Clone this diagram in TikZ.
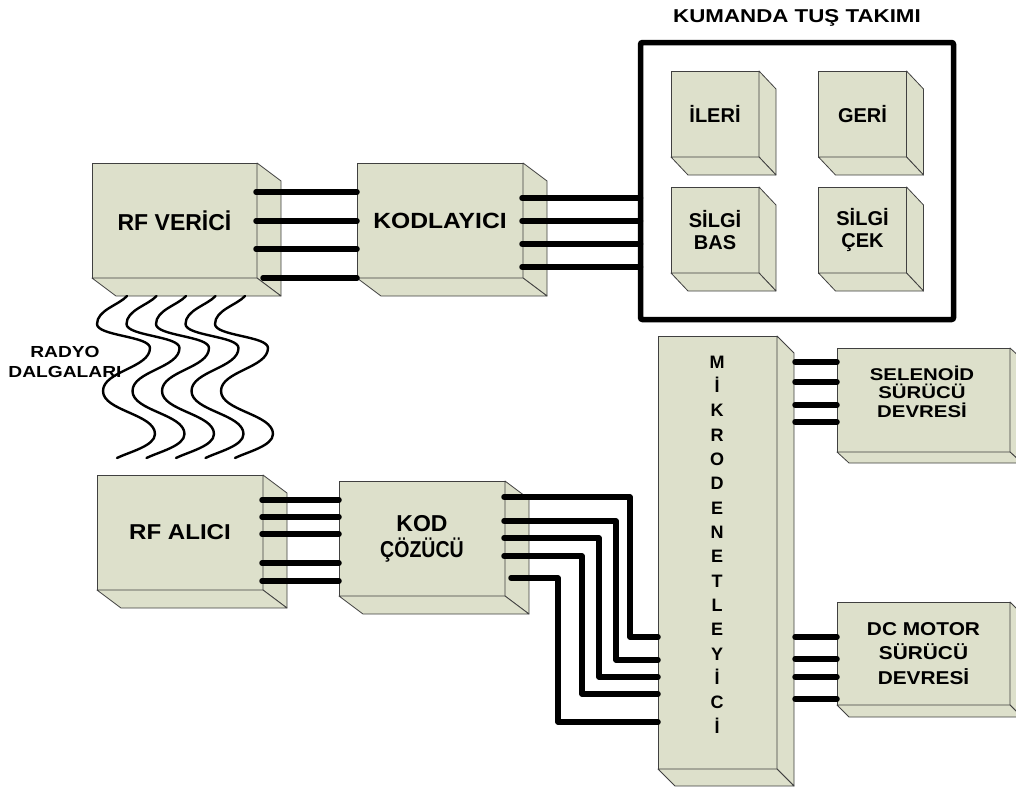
\documentclass[tikz,border=0pt]{standalone}
\usepackage{fontspec}
\setmainfont{Liberation Sans}
\newfontfamily\wa{Liberation Sans}[FakeStretch=1.12]
\newfontfamily\wb{Liberation Sans}[FakeStretch=1.2]
\usetikzlibrary{calc}
\definecolor{facefill}{HTML}{DDE0CB}
\definecolor{edgecol}{HTML}{404040}
\tikzset{
 box/.style={draw=edgecol, fill=facefill, line width=0.8pt, inner sep=0pt, outer sep=0pt, align=center},
 face/.style={draw=edgecol, fill=facefill, line width=0.8pt, line join=round},
 wire/.style={line width=5.5pt, line cap=round, line join=round},
 wave/.style={line width=2.4pt, line cap=round},
 lbl/.style={inner sep=0pt, align=center},
}
\newcommand\cubesides[3]{%
 \draw[face] (#1.north east) -- ++(#2,#3) -- ($(#1.south east)+(#2,#3)$) -- (#1.south east) -- cycle;
 \draw[face] (#1.south west) -- (#1.south east) -- ($(#1.south east)+(#2,#3)$) -- ($(#1.south west)+(#2,#3)$) -- cycle;}
\newcommand\hw[4]{\path (#1) ++(#2) coordinate (#4); \draw[wire] (#4) -- (#4 -| #3);}
\begin{document}
\begin{tikzpicture}[x=1pt,y=-1pt]
\useasboundingbox (0,0) rectangle (1016,787);
\clip (0,0) rectangle (1016,787);

% --- boxes
\node[box, minimum width=165pt, minimum height=115pt, font=\bfseries\fontsize{23}{27}\selectfont] (rfv) at (174.5,220.5) {RF VERİCİ};
\cubesides{rfv}{24}{18}
\node[box, minimum width=166pt, minimum height=115pt, font=\wa\bfseries\fontsize{22}{26}\selectfont] (kod) at (440,220.5) {KODLAYICI};
\cubesides{kod}{24}{18}
\node[box, minimum width=166pt, minimum height=115pt, font=\wa\bfseries\fontsize{21.5}{26}\selectfont] (rfa) at (180,532.5) {RF ALICI};
\cubesides{rfa}{24}{18}
\node[box, minimum width=166pt, minimum height=115pt, font=\bfseries\fontsize{23}{26}\selectfont] (kodc) at (422,538.5) {KOD\\\scalebox{0.85}[1]{ÇÖZÜCÜ}};
\cubesides{kodc}{24}{18}
\node[box, minimum width=119pt, minimum height=433pt] (micro) at (717.5,552.5) {};
\cubesides{micro}{17}{17}
\node[lbl, font=\bfseries\fontsize{18}{24.33}\selectfont] (microtxt) at (717,544.5)
 {M\\İ\\K\\R\\O\\D\\E\\N\\E\\T\\L\\E\\Y\\İ\\C\\İ};
\node[box, minimum width=173pt, minimum height=104pt] (sel) at (923.5,400) {};
\cubesides{sel}{12}{11}
\node[lbl, font=\wb\bfseries\fontsize{17}{18.5}\selectfont] (seltxt) at (922,391.5) {SELENOİD\\SÜRÜCÜ\\DEVRESİ};
\node[box, minimum width=173pt, minimum height=103pt, font=\wa\bfseries\fontsize{18.6}{24.5}\selectfont] (dc) at (923.5,653.5) {DC MOTOR\\SÜRÜCÜ\\DEVRESİ};
\cubesides{dc}{12}{12}

% --- keypad
\node[draw, line width=5.5pt, rounded corners=2pt, minimum width=313pt, minimum height=277pt, inner sep=0pt, outer sep=0pt] (pad) at (797,181) {};
\node[lbl, font=\wb\bfseries\fontsize{18.6}{22}\selectfont] (padtitle) at (797,18) {KUMANDA TUŞ TAKIMI};
\tikzset{key/.style={box, minimum width=88pt, minimum height=86pt, font=\bfseries\fontsize{20}{22}\selectfont}}
\node[key] (ileri) at (715,114) {İLERİ};
\cubesides{ileri}{17}{18}
\node[key] (geri) at (862.5,114) {GERİ};
\cubesides{geri}{17}{18}
\node[key] (sbas) at (715,230) {SİLGİ\\BAS};
\cubesides{sbas}{17}{18}
\node[key] (scek) at (862.5,230) {SİLGİ\\ÇEK};
\cubesides{scek}{17}{18}

% --- wires RF VERICI -> KODLAYICI
\hw{rfv.north east}{-1,29}{kod.west}{a1}
\hw{rfv.north east}{-1,58}{kod.west}{a2}
\hw{rfv.north east}{-1,86}{kod.west}{a3}
\hw{rfv.north east}{6,115}{kod.west}{a4}
% KODLAYICI -> keypad
\hw{kod.north east}{-1,35}{pad.west}{b1}
\hw{kod.north east}{-1,58}{pad.west}{b2}
\hw{kod.north east}{-1,81}{pad.west}{b3}
\hw{kod.north east}{-1,104}{pad.west}{b4}
% RF ALICI -> KOD COZUCU
\hw{rfa.north east}{-1,25}{kodc.west}{c1}
\hw{rfa.north east}{-1,42}{kodc.west}{c2}
\hw{rfa.north east}{-1,59}{kodc.west}{c3}
\hw{rfa.north east}{-1,88}{kodc.west}{c4}
\hw{rfa.north east}{-1,106}{kodc.west}{c5}
% micro -> selenoid
\hw{micro.north east}{18,26}{sel.west}{d1}
\hw{micro.north east}{18,46}{sel.west}{d2}
\hw{micro.north east}{18,69}{sel.west}{d3}
\hw{micro.north east}{18,86}{sel.west}{d4}
% micro -> dc motor
\hw{micro.north east}{18,301}{dc.west}{g1}
\hw{micro.north east}{18,323}{dc.west}{g2}
\hw{micro.north east}{18,341}{dc.west}{g3}
\hw{micro.north east}{18,363}{dc.west}{g4}
% KOD COZUCU -> micro (elbows)
\path (kodc.north east) ++(-1,16) coordinate (e1);
\path (kodc.north east) ++(-1,40) coordinate (e2);
\path (kodc.north east) ++(-1,57) coordinate (e3);
\path (kodc.north east) ++(-1,75) coordinate (e4);
\path (kodc.north east) ++(6,97) coordinate (e5);
\path (micro.north west) ++(0,301) coordinate (f1);
\path (micro.north west) ++(0,324) coordinate (f2);
\path (micro.north west) ++(0,341) coordinate (f3);
\path (micro.north west) ++(0,358) coordinate (f4);
\path (micro.north west) ++(0,386) coordinate (f5);
\draw[wire] (e1) -- ++(126,0) |- (f1);
\draw[wire] (e2) -- ++(112,0) |- (f2);
\draw[wire] (e3) -- ++(95,0) |- (f3);
\draw[wire] (e4) -- ++(78,0) |- (f4);
\draw[wire] (e5) -- ++(47,0) |- (f5);

% --- radio waves
\foreach \i in {0,...,4}{
 \draw[wave] ($(127,296)+(29.5*\i,0)$)
   .. controls +(-8,9) and +(0,-14) .. ++(-30,28)
   .. controls +(0,12) and +(0,-12) .. ++(53,24)
   .. controls +(0,20) and +(0,-20) .. ++(-47,43)
   .. controls +(0,20) and +(0,-20) .. ++(52,43)
   .. controls +(0,12) and +(12,-6) .. ++(-38,24);
}
\node[lbl, font=\wb\bfseries\fontsize{16}{20}\selectfont] (radyo) at (65,362) {RADYO\\DALGALARI};
\end{tikzpicture}
\end{document}
